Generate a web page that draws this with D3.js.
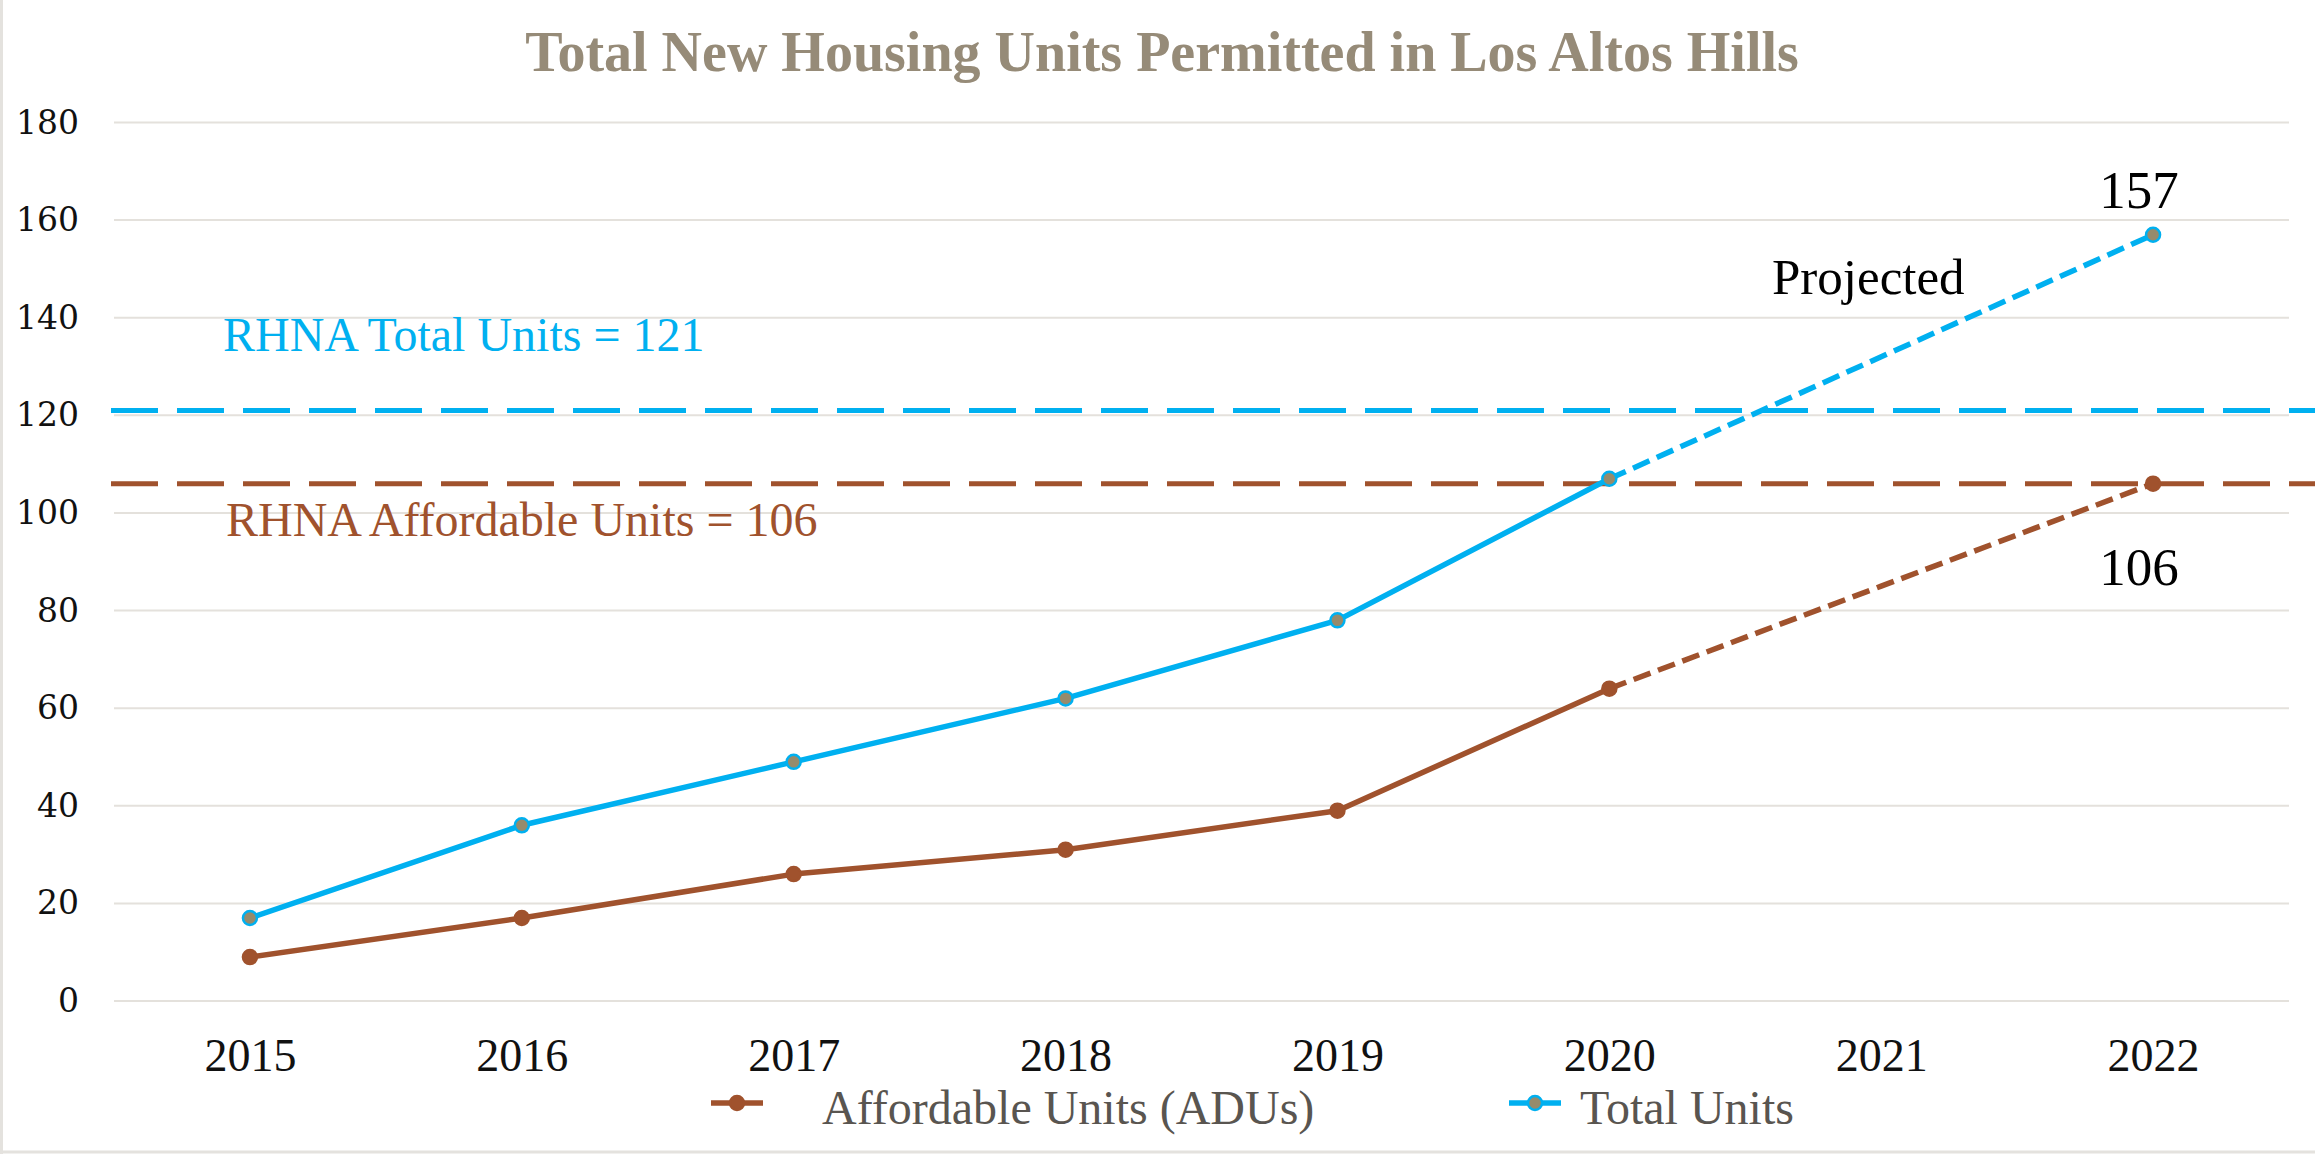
<!DOCTYPE html>
<html>
<head>
<meta charset="utf-8">
<script src="https://cdn.jsdelivr.net/npm/d3@7"></script>
<style>
  body { margin: 0; background: #fff; }
  svg { display: block; }
  .serif { font-family: "Liberation Serif", "Times New Roman", serif; }
</style>
</head>
<body>
<div id="chart"></div>
<script>
const years = ["2015", "2016", "2017", "2018", "2019", "2020", "2021", "2022"];
const affordable = [9, 17, 26, 31, 39, 64, 85, 106];
const total = [17, 36, 49, 62, 78, 107, 132, 157];
const yTicks = [0, 20, 40, 60, 80, 100, 120, 140, 160, 180];
const rhnaTotal = 121;
const rhnaAffordable = 106;
const projectedFrom = "2020";
const hiddenMarkers = ["2021"];

const W = 2315, H = 1154;
const BLUE = "#00b0f0", BROWN = "#a0522d", OLIVE = "#968b6c";

const svg = d3.select("#chart").append("svg")
  .attr("width", W).attr("height", H)
  .attr("viewBox", `0 0 ${W} ${H}`);

const x = d3.scalePoint().domain(years).range([114, 2289]).padding(0.5);
const y = d3.scaleLinear().domain([0, 180]).range([1001, 122.5]);

// faint chart border (left + bottom)
svg.append("line").attr("x1", 1.5).attr("x2", 1.5).attr("y1", 0).attr("y2", H)
  .attr("stroke", "#e4e2de").attr("stroke-width", 3);
svg.append("line").attr("x1", 0).attr("x2", W).attr("y1", H - 2).attr("y2", H - 2)
  .attr("stroke", "#e4e2de").attr("stroke-width", 3);

// title
svg.append("text")
  .attr("class", "serif")
  .attr("x", 1162).attr("y", 71)
  .attr("text-anchor", "middle")
  .attr("font-size", 56).attr("font-weight", "bold")
  .attr("fill", "#968b78")
  .text("Total New Housing Units Permitted in Los Altos Hills");

// gridlines
svg.append("g")
  .selectAll("line")
  .data(yTicks)
  .join("line")
  .attr("x1", 114).attr("x2", 2289)
  .attr("y1", d => y(d)).attr("y2", d => y(d))
  .attr("stroke", "#e4e1dc").attr("stroke-width", 2);

// y axis
const yAxis = svg.append("g")
  .attr("transform", "translate(79,0)")
  .call(d3.axisLeft(y).tickValues(yTicks).tickSize(0).tickPadding(0));
yAxis.select(".domain").remove();
yAxis.selectAll("text")
  .attr("font-family", "DejaVu Serif, serif")
  .attr("font-size", 33)
  .attr("fill", "#111");

// x axis
const xAxis = svg.append("g")
  .attr("transform", "translate(0,1039)")
  .call(d3.axisBottom(x).tickSize(0).tickPadding(0));
xAxis.select(".domain").remove();
xAxis.selectAll("text")
  .attr("font-family", "Liberation Serif, serif")
  .attr("font-size", 46)
  .attr("fill", "#111")
  .attr("dy", "0.7em");

// RHNA reference lines
svg.append("line")
  .attr("x1", 111).attr("x2", W)
  .attr("y1", y(rhnaTotal)).attr("y2", y(rhnaTotal))
  .attr("stroke", BLUE).attr("stroke-width", 5)
  .attr("stroke-dasharray", "47,19");
svg.append("line")
  .attr("x1", 111).attr("x2", W)
  .attr("y1", y(rhnaAffordable)).attr("y2", y(rhnaAffordable))
  .attr("stroke", BROWN).attr("stroke-width", 5)
  .attr("stroke-dasharray", "47,19");

svg.append("text").attr("class", "serif")
  .attr("x", 223).attr("y", 351)
  .attr("font-size", 48).attr("fill", BLUE)
  .text(`RHNA Total Units = ${rhnaTotal}`);
svg.append("text").attr("class", "serif")
  .attr("x", 226).attr("y", 536)
  .attr("font-size", 48).attr("fill", BROWN)
  .text(`RHNA Affordable Units = ${rhnaAffordable}`);

// series
const series = [
  { name: "Affordable Units (ADUs)", values: affordable, color: BROWN, fill: BROWN },
  { name: "Total Units", values: total, color: BLUE, fill: OLIVE }
];

const line = d3.line().x(d => x(d.year)).y(d => y(d.value));
const splitIdx = years.indexOf(projectedFrom);

series.forEach(s => {
  const pts = years.map((yr, i) => ({ year: yr, value: s.values[i] }));
  svg.append("path")
    .datum(pts.slice(0, splitIdx + 1))
    .attr("d", line)
    .attr("fill", "none").attr("stroke", s.color)
    .attr("stroke-width", 5.5).attr("stroke-linejoin", "round");
  svg.append("path")
    .datum(pts.slice(splitIdx))
    .attr("d", line)
    .attr("fill", "none").attr("stroke", s.color)
    .attr("stroke-width", 5.5).attr("stroke-dasharray", "18,8");
  svg.append("g")
    .selectAll("circle")
    .data(pts.filter(p => !hiddenMarkers.includes(p.year)))
    .join("circle")
    .attr("cx", d => x(d.year)).attr("cy", d => y(d.value))
    .attr("r", 7)
    .attr("fill", s.fill)
    .attr("stroke", s.color).attr("stroke-width", 2.5);
});

// annotations
const last = years[years.length - 1];
svg.append("text").attr("class", "serif")
  .attr("x", x(last) - 14).attr("y", 208)
  .attr("text-anchor", "middle")
  .attr("font-size", 53).attr("fill", "#000")
  .text(total[total.length - 1]);
svg.append("text").attr("class", "serif")
  .attr("x", x(last) - 14).attr("y", 585)
  .attr("text-anchor", "middle")
  .attr("font-size", 53).attr("fill", "#000")
  .text(affordable[affordable.length - 1]);
svg.append("text").attr("class", "serif")
  .attr("x", 1772).attr("y", 294)
  .attr("font-size", 51).attr("fill", "#000")
  .text("Projected");

// legend
const legend = [
  { s: series[0], mx: 737, tx: 822 },
  { s: series[1], mx: 1535, tx: 1580 }
];
legend.forEach(l => {
  const g = svg.append("g");
  g.append("line")
    .attr("x1", l.mx - 26).attr("x2", l.mx + 26)
    .attr("y1", 1103).attr("y2", 1103)
    .attr("stroke", l.s.color).attr("stroke-width", 5.5);
  g.append("circle")
    .attr("cx", l.mx).attr("cy", 1103).attr("r", 7)
    .attr("fill", l.s.fill).attr("stroke", l.s.color).attr("stroke-width", 2.5);
  g.append("text").attr("class", "serif")
    .attr("x", l.tx).attr("y", 1124)
    .attr("font-size", 48).attr("fill", "#595550")
    .text(l.s.name);
});
</script>
</body>
</html>
